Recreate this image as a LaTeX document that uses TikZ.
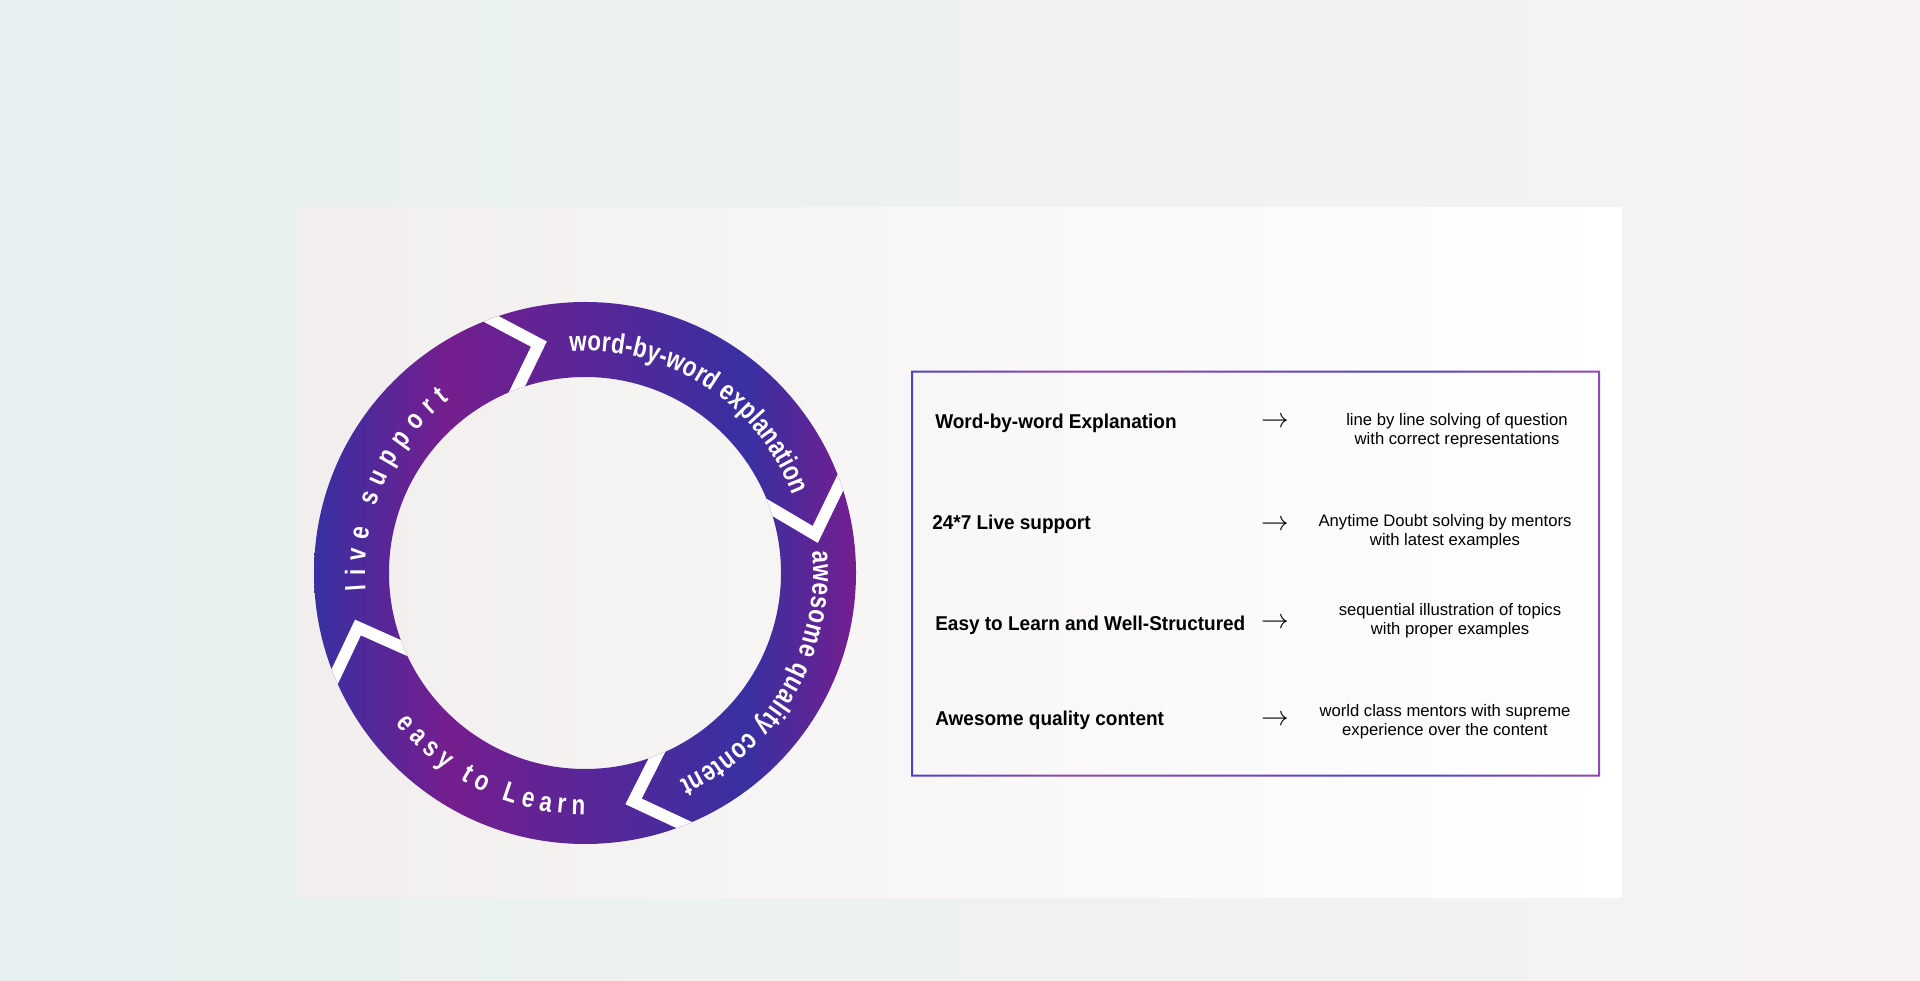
\documentclass[tikz,border=0pt]{standalone}
\usepackage{fontspec}
\setmainfont{Liberation Sans}
\newfontfamily\ringfont[FakeStretch=0.8]{Liberation Sans}
\newfontfamily\labelfont[FakeStretch=0.95]{Liberation Sans}
\usepackage{tikz}
\usetikzlibrary{calc, decorations.text, positioning}
\usepackage{xcolor}

\definecolor{ringblue}{HTML}{3830A2}
\definecolor{ringpurple}{HTML}{751E8E}
\definecolor{boxblue}{HTML}{4C44C2}
\definecolor{boxpurple}{HTML}{9446B4}
\definecolor{bgleft}{HTML}{E6F0F0}
\definecolor{bgright}{HTML}{F7F3F2}
\definecolor{panelleft}{HTML}{F2EEEE}
\definecolor{panelmid}{HTML}{F9F2F2}

\pgfdeclarehorizontalshading{ringshade}{100bp}{
	color(0bp)=(ringblue); color(25bp)=(ringblue);
	color(37.25bp)=(ringpurple); color(65bp)=(ringblue);
	color(75bp)=(ringpurple); color(100bp)=(ringpurple)}
\pgfdeclarehorizontalshading{boxshade}{100bp}{
	color(0bp)=(boxblue); color(25bp)=(boxblue);
	color(36.9bp)=(boxpurple); color(60.9bp)=(boxblue);
	color(75bp)=(boxpurple); color(100bp)=(boxpurple)}

\newcommand\ringtext{\ringfont\bfseries\fontsize{21pt}{24pt}\selectfont}

\begin{document}
\begin{tikzpicture}[
		x=0.75pt, y=0.75pt,
		gapline/.style={
			white,
			line width=9pt,
			line join=miter
		},
		rowlabel/.style={
			anchor=base west,
			inner sep=0pt,
			font=\labelfont\bfseries\fontsize{15pt}{18pt}\selectfont
		},
		rowarrow/.style={
			inner sep=0pt,
			font=\huge
		},
		rowdesc/.style={
			align=center,
			inner sep=0pt,
			font=\fontsize{12.5pt}{14.25pt}\selectfont
		},
		ringlabel/.style={
			decorate,
			decoration={
				text along path,
				text color=white,
				text align={fit to path},
				text={|\ringtext|#1}
			}
		}
		]
		\useasboundingbox (0,0) rectangle (1920,981);
		
		% background
		\shade[left color=bgleft, right color=bgright] (0,0) rectangle (1920,981);
		\shade[left color=panelleft, middle color=panelmid, right color=white] (298,83) rectangle (1622,773);
		
		% ring
		\coordinate (c) at (585,408);
		\shade[shading=ringshade, even odd rule] (c) circle[radius=271] (c) circle[radius=196];
		
		\begin{scope}[even odd rule]
			\clip (c) circle[radius=271] (c) circle[radius=196];
			\foreach \g/\t in {110.3/101.4, 19.5/9.5, -68.5/-78, 202.5/193.5} {
				\coordinate (tip) at ($(c)+(\t:233.5)$);
				\coordinate (gapout) at ($(c)+(\g:271)$);
				\coordinate (gapin) at ($(c)+(\g:196)$);
				\draw[gapline] ($(tip)!1.4!(gapout)$) -- (tip) -- ($(tip)!1.4!(gapin)$);
			}
		\end{scope}
		
		%--
		\path[ringlabel={live support}] ($(c)+(184.5:220)$) arc[start angle=184.5, end angle=128, radius=220];
		\path[ringlabel={word-by-word explanation}] ($(c)+(94:222)$) arc[start angle=94, end angle=20.5, radius=222];
		\path[ringlabel={awesome quality content}] ($(c)+(5.5:228)$) arc[start angle=5.5, end angle=-65.5, radius=228];
		\path[ringlabel={easy to Learn}] ($(c)+(218.5:241.5)$) arc[start angle=218.5, end angle=270, radius=241.5];
		
		% box
		\shade[shading=boxshade, even odd rule] (911,204.3) rectangle (1600,610.3) (913,206.3) rectangle (1598,608.3);
		
		% frst row
		\node[rowlabel] (wbw) at (935,552) {Word-by-word Explanation};
		\node[rowarrow] (wbwarrow) at (1275,558.3) {$\rightarrow$};
		\node[rowdesc] (wbwdesc) at (1457,550.7) {line by line solving of question\\with correct representations};
		
		% scnd row
		\node[rowlabel] (live) at (932,451) {24*7 Live support};
		\node[rowarrow] (livearrow) at (1275,455.3) {$\rightarrow$};
		\node[rowdesc] (livedesc) at (1445,449.4) {Anytime Doubt solving by mentors\\with latest examples};
		
		% thrd row
		\node[rowlabel] (easy) at (935,350.3) {Easy to Learn and Well-Structured};
		\node[rowarrow] (easyarrow) at (1275,357.7) {$\rightarrow$};
		\node[rowdesc] (easydesc) at (1450,360.2) {sequential illustration of topics\\with proper examples};
		
		% frth row
		\node[rowlabel] (quality) at (935,255.3) {Awesome quality content};
		\node[rowarrow] (qualityarrow) at (1275,260.3) {$\rightarrow$};
		\node[rowdesc] (qualitydesc) at (1445,258.9) {world class mentors with supreme\\experience over the content};
		
	\end{tikzpicture}
\end{document}
